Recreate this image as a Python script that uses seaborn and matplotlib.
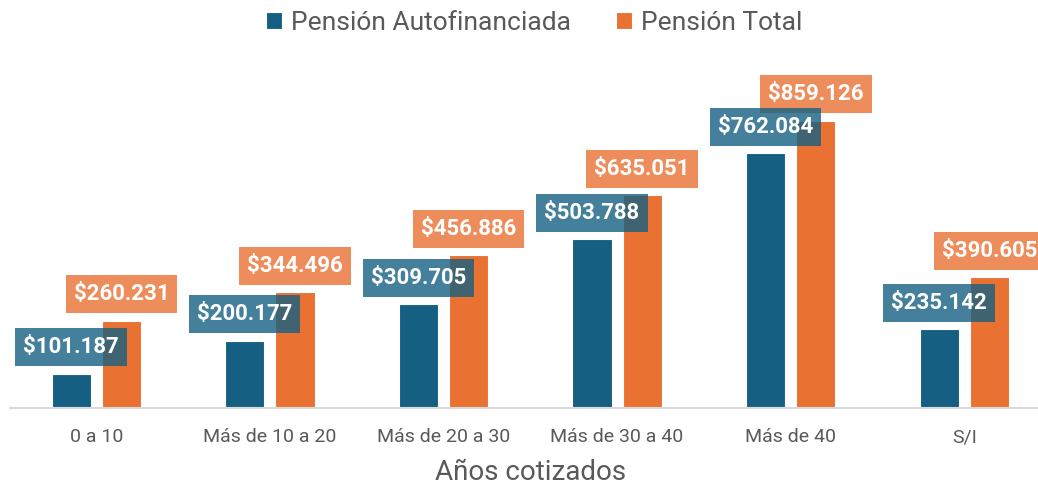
import matplotlib
matplotlib.use("Agg")
import matplotlib.pyplot as plt
import seaborn as sns
import pandas as pd

categories = ["0 a 10", "Más de 10 a 20", "Más de 20 a 30", "Más de 30 a 40", "Más de 40", "S/I"]
autofinanciada = [101187, 200177, 309705, 503788, 762084, 235142]
total = [260231, 344496, 456886, 635051, 859126, 390605]
series_names = ["Pensión Autofinanciada", "Pensión Total"]
colors = ["#156082", "#E97132"]

df = pd.DataFrame({
    "cat": categories * 2,
    "val": autofinanciada + total,
    "serie": [series_names[0]] * len(categories) + [series_names[1]] * len(categories),
})

sns.set_theme(style="white")
plt.rcParams["font.family"] = ["Roboto", "DejaVu Sans"]

W, H = 1038, 486
fig = plt.figure(figsize=(W / 100, H / 100), dpi=100)
base_y = 407.5
ymax = 1_000_000
px_per_val = 1 / 2995
ax_h = ymax * px_per_val
ax = fig.add_axes([9.5 / W, (H - base_y) / H, 1041.6 / W, ax_h / H])

sns.barplot(data=df, x="cat", y="val", hue="serie", palette=colors, ax=ax,
            width=0.578, gap=0.22, edgecolor="white", linewidth=0.8,
            legend=True, saturation=1)
ax.set_ylim(0, ymax)
ax.set_xlim(-0.5, 5.5)

def fmt(v):
    return "$" + f"{v:,.0f}".replace(",", ".")

for i, cont in enumerate(ax.containers):
    vals = autofinanciada if i == 0 else total
    ax.bar_label(cont, labels=[fmt(v) for v in vals], padding=11,
                 color="white", fontweight="bold", fontsize=16,
                 zorder=5 if i == 0 else 4,
                 bbox=dict(boxstyle="square,pad=0.36", facecolor=colors[i],
                           edgecolor="none", alpha=0.8))

for s in ["top", "left", "right"]:
    ax.spines[s].set_visible(False)
ax.spines["bottom"].set_color("#d9d9d9")
ax.spines["bottom"].set_linewidth(1.5)
ax.set_yticks([])
ax.set_ylabel("")
ax.tick_params(axis="x", length=0, pad=15, labelsize=14, labelcolor="#595959")
ax.set_xlabel("Años cotizados", fontsize=20, color="#595959", labelpad=9)

handles, labels = ax.get_legend_handles_labels()
ax.legend(handles, labels, loc="upper center", bbox_to_anchor=(0.5145, 1.0),
          bbox_transform=fig.transFigure, ncol=2, frameon=False,
          fontsize=19, labelcolor="#595959", handlelength=0.6, handleheight=0.6,
          handletextpad=0.35, columnspacing=1.7, borderaxespad=0.0)

fig.savefig("out.png", dpi=100)
